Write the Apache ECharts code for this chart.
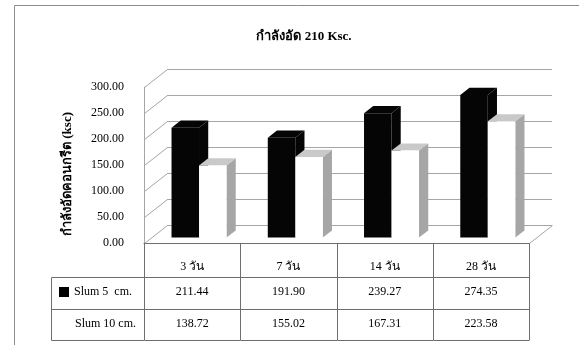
<!DOCTYPE html>
<html>
<head>
<meta charset="utf-8">
<script src="https://cdn.jsdelivr.net/npm/echarts@6/dist/echarts.min.js"></script>
<style>
  html, body { margin: 0; padding: 0; background: #fff; }
  #chart { width: 579px; height: 345px; }
</style>
</head>
<body>
<div id="chart"></div>
<script>
// ---- data ----
const categories = ['3 วัน', '7 วัน', '14 วัน', '28 วัน'];
const slum5 = [211.44, 191.90, 239.27, 274.35];
const slum10 = [138.72, 155.02, 167.31, 223.58];
const seriesNames = ['Slum 5  cm.', 'Slum 10 cm.'];
const yTicks = [0, 50, 100, 150, 200, 250, 300];
const titleText = 'กำลังอัด 210 Ksc.';
const yAxisTitle = 'กำลังอัดคอนกรีต (ksc)';

// ---- look ----
const FONT = '"Liberation Serif", "DejaVu Serif", serif';
const GRID_COLOR = '#a6a6a6';
const TABLE_COLOR = '#6e6e6e';
const DEPTH = [23, -18];            // offset from the front plane to the back wall
const BAR_NEAR = 0.3, BAR_FAR = 0.7; // bars occupy this slice of the depth
const ROWS = [34, 32, 31];          // table row heights: header, row 1, row 2
const LEGEND_LEFT = 51;

const palettes = [
  { front: '#050505', top: '#050505', side: '#050505' },
  { front: '#ffffff', top: '#c9c9c9', side: '#a6a6a6' }
];

// 3D column drawn from the front-plane scale, pushed back into the depth slice
function columnRenderer(slot) {
  const c = palettes[slot];
  return function (params, api) {
    const cat = api.value(0), v = api.value(1);
    const top = api.coord([cat, v]);
    const base = api.coord([cat, 0]);
    const band = api.size([1, 0])[0];
    const w = band / 3.5;
    const x0 = top[0] - w + slot * w + DEPTH[0] * BAR_NEAR;
    const x1 = x0 + w;
    const yT = top[1] + DEPTH[1] * BAR_NEAR;
    const yB = base[1] + DEPTH[1] * BAR_NEAR;
    const dx = DEPTH[0] * (BAR_FAR - BAR_NEAR), dy = DEPTH[1] * (BAR_FAR - BAR_NEAR);
    return {
      type: 'group',
      children: [
        { type: 'polygon', shape: { points: [[x1, yT], [x1, yB], [x1 + dx, yB + dy], [x1 + dx, yT + dy]] }, style: { fill: c.side } },
        { type: 'polygon', shape: { points: [[x0, yT], [x1, yT], [x1 + dx, yT + dy], [x0 + dx, yT + dy]] }, style: { fill: c.top } },
        { type: 'rect', shape: { x: x0, y: yT, width: w, height: yB - yT }, style: { fill: c.front } }
      ]
    };
  };
}

// side wall diagonals (one per tick) and the floor's right edge
function wallRenderer(params, api) {
  const cs = params.coordSys;
  const p = api.coord([0, api.value(1)]);
  const line = (x, y) => ({
    type: 'line',
    shape: { x1: x, y1: y, x2: x + DEPTH[0], y2: y + DEPTH[1] },
    style: { stroke: GRID_COLOR, lineWidth: 1 }
  });
  const kids = [line(cs.x + 0.5, Math.round(p[1]) + 0.5)];
  if (api.value(1) === 0) kids.push(line(cs.x + cs.width + 0.5, Math.round(p[1]) + 0.5));
  return { type: 'group', children: kids };
}

// data table under the plot, one column per category
function tableRenderer(params, api) {
  const cs = params.coordSys;
  const i = api.value(0);
  const cx = api.coord([i, 0])[0];
  const band = api.size([1, 0])[0];
  const left = Math.round(cx - band / 2) + 0.5, right = Math.round(cx + band / 2) + 0.5;
  const y0 = cs.y + cs.height;
  const y1 = y0 + ROWS[0], y2 = y1 + ROWS[1], y3 = y2 + ROWS[2];
  const ln = (xa, ya, xb, yb) => ({
    type: 'line', shape: { x1: xa, y1: ya, x2: xb, y2: yb },
    style: { stroke: TABLE_COLOR, lineWidth: 1 }
  });
  const txt = (s, x, y, align) => ({
    type: 'text',
    style: { text: s, x: x, y: y, align: align || 'center', verticalAlign: 'middle',
             fontFamily: FONT, fontSize: 12, fill: '#000' }
  });
  const kids = [
    ln(right, y0, right, y3),
    ln(left, Math.round(y1) + 0.5, right, Math.round(y1) + 0.5),
    ln(left, Math.round(y2) + 0.5, right, Math.round(y2) + 0.5),
    ln(left, Math.round(y3) + 0.5, right, Math.round(y3) + 0.5),
    txt(categories[i], cx, y0 + 24),
    txt(api.value(1).toFixed(2), cx, y1 + 15),
    txt(api.value(2).toFixed(2), cx, y2 + 15)
  ];
  if (i === 0) {
    const lx = LEGEND_LEFT + 0.5;
    kids.push(
      ln(left, y0, left, y3),
      ln(lx, Math.round(y1) + 0.5, left, Math.round(y1) + 0.5),
      ln(lx, Math.round(y2) + 0.5, left, Math.round(y2) + 0.5),
      ln(lx, Math.round(y3) + 0.5, left, Math.round(y3) + 0.5),
      ln(lx, Math.round(y1) + 0.5, lx, Math.round(y3) + 0.5),
      { type: 'rect', shape: { x: 59, y: y1 + 10, width: 10, height: 10 },
        style: { fill: '#000' } },
      txt(seriesNames[0], 74, y1 + 15, 'left'),
      txt(seriesNames[1], 75, y2 + 15, 'left')
    );
  }
  return { type: 'group', children: kids };
}

const chart = echarts.init(document.getElementById('chart'), null, { renderer: 'canvas' });

chart.setOption({
  animation: false,
  backgroundColor: '#fff',
  textStyle: { fontFamily: FONT },
  title: {
    text: titleText,
    left: 299,
    textAlign: 'center',
    top: 25,
    textStyle: { fontFamily: FONT, fontSize: 13, fontWeight: 'bold', color: '#000' }
  },
  graphic: [
    { type: 'rect', shape: { x: 14.5, y: 5.5, width: 620, height: 400 },
      style: { fill: 'none', stroke: '#8c8c8c', lineWidth: 1 }, z: -10 }
  ],
  grid: [
    { left: 144, top: 87, width: 385, height: 156 },   // front plane
    { left: 167, top: 69, width: 385, height: 156 }    // back wall
  ],
  xAxis: [
    { type: 'category', gridIndex: 0, data: categories,
      axisLine: { lineStyle: { color: TABLE_COLOR } },
      axisTick: { show: false }, axisLabel: { show: false }, splitLine: { show: false } },
    { type: 'category', gridIndex: 1, data: categories, show: false }
  ],
  yAxis: [
    { type: 'value', gridIndex: 0, min: 0, max: 300, interval: 50,
      name: yAxisTitle, nameLocation: 'middle', nameGap: 70, nameRotate: 90,
      nameTextStyle: { fontFamily: FONT, fontSize: 13, fontWeight: 'bold', color: '#000',
                       padding: [0, 18, 0, 0] },
      axisLine: { show: true, lineStyle: { color: GRID_COLOR } },
      axisTick: { show: false },
      axisLabel: { margin: 20, fontFamily: FONT, fontSize: 12, color: '#000',
                   formatter: v => v.toFixed(2) },
      splitLine: { show: false } },
    { type: 'value', gridIndex: 1, min: 0, max: 300, interval: 50,
      axisLine: { show: false }, axisTick: { show: false }, axisLabel: { show: false },
      splitLine: { show: true, lineStyle: { color: GRID_COLOR, width: 1 } } }
  ],
  series: [
    { type: 'custom', xAxisIndex: 0, yAxisIndex: 0, silent: true, clip: false,
      renderItem: wallRenderer, data: yTicks.map(v => [0, v]) },
    { type: 'custom', name: seriesNames[0], xAxisIndex: 0, yAxisIndex: 0, clip: false,
      renderItem: columnRenderer(0), data: slum5.map((v, i) => [i, v]) },
    { type: 'custom', name: seriesNames[1], xAxisIndex: 0, yAxisIndex: 0, clip: false,
      renderItem: columnRenderer(1), data: slum10.map((v, i) => [i, v]) },
    { type: 'custom', xAxisIndex: 0, yAxisIndex: 0, silent: true, clip: false,
      renderItem: tableRenderer,
      data: categories.map((c, i) => [i, slum5[i], slum10[i]]) }
  ]
});
</script>
</body>
</html>
